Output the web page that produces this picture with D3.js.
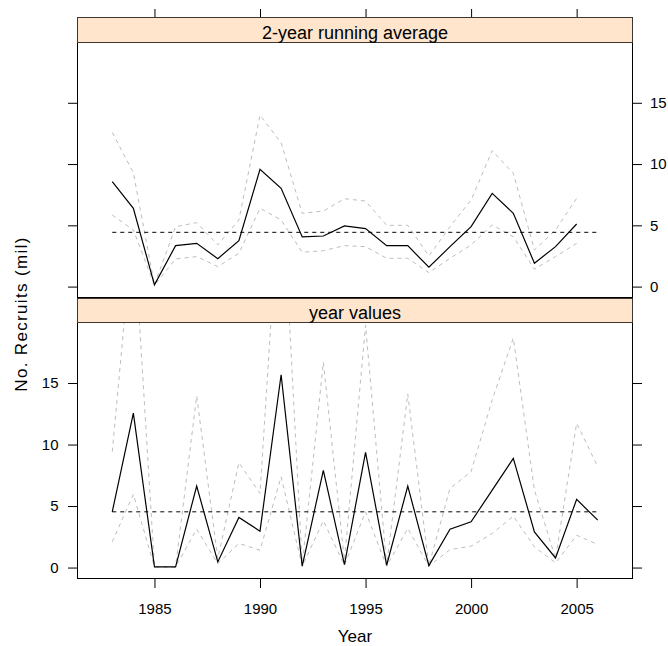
<!DOCTYPE html>
<html>
<head>
<meta charset="utf-8">
<script src="https://cdn.jsdelivr.net/npm/d3@7"></script>
<style>
    body { margin: 0; background: #fff; }
    svg { display: block; font-family: "Liberation Sans", Arial, sans-serif; }
</style>
</head>
<body>
<div id="chart"></div>
<script>
'use strict';

// years on the x axis
var years = [1983, 1984, 1985, 1986, 1987, 1988, 1989, 1990, 1991, 1992, 1993, 1994,
    1995, 1996, 1997, 1998, 1999, 2000, 2001, 2002, 2003, 2004, 2005, 2006];

// 2-year running average (1983..2005)
var avgMid = [8.56, 6.39, 0.14, 3.34, 3.53, 2.28, 3.75, 9.57, 8.02, 4.05, 4.13, 4.95,
    4.73, 3.34, 3.34, 1.58, 3.26, 4.89, 7.61, 5.98, 1.91, 3.26, 5.11];
var avgHi = [12.58, 9.29, 0.14, 4.89, 5.22, 3.40, 5.44, 13.99, 11.74, 5.98, 6.17, 7.17,
    6.98, 5.00, 5.00, 2.50, 4.89, 7.07, 11.09, 9.24, 2.99, 4.62, 7.20];
var avgLo = [5.84, 4.62, 0.10, 2.26, 2.45, 1.63, 2.72, 6.39, 5.44, 2.80, 2.93, 3.34,
    3.26, 2.31, 2.31, 1.14, 2.31, 3.40, 5.03, 4.07, 1.42, 2.45, 3.53];

// year values (1983..2006)
var yrMid = [4.53, 12.55, 0.05, 0.05, 6.63, 0.46, 4.07, 2.96, 15.67, 0.11, 7.90, 0.24,
    9.37, 0.19, 6.63, 0.16, 3.12, 3.72, 6.30, 8.88, 2.90, 0.78, 5.54, 3.85];
var yrHi = [9.42, 28.0, 0.05, 0.05, 13.96, 0.73, 8.53, 6.03, 33.0, 0.19, 16.68, 0.60,
    19.7, 0.19, 14.12, 0.16, 6.44, 7.79, 13.63, 18.66, 6.30, 0.73, 11.73, 8.20];
var yrLo = [2.09, 5.95, 0.05, 0.05, 3.12, 0.32, 1.96, 1.41, 7.38, 0.11, 3.80, 0.19,
    4.53, 0.11, 3.18, 0.11, 1.46, 1.74, 2.77, 4.18, 1.68, 0.38, 2.63, 1.87];

// horizontal mean line per panel
var meanValues = [4.43, 4.53];

var panelTitles = ['2-year running average', 'year values'];
var xTicks = [1985, 1990, 1995, 2000, 2005];
var yTicks = [0, 5, 10, 15];

var width = 668, height = 646;
var left = 77, right = 633;

var svg = d3.select('#chart').append('svg')
    .attr('width', width)
    .attr('height', height);

var x = d3.scaleLinear()
    .domain([1981.33, 2007.67])
    .range([left, right]);

// panels: strip top, plot top, plot bottom
var panels = [
    {strip: 17, top: 42, bottom: 298, mid: avgMid, hi: avgHi, lo: avgLo, mean: meanValues[0], title: panelTitles[0]},
    {strip: 298, top: 322, bottom: 579, mid: yrMid, hi: yrHi, lo: yrLo, mean: meanValues[1], title: panelTitles[1]}
];

panels.forEach(function (p, i) {
    var y = d3.scaleLinear()
        .domain([-0.93, 19.96])
        .range([p.bottom, p.top]);

    var clipId = 'clip' + i;
    svg.append('clipPath').attr('id', clipId)
        .append('rect')
        .attr('x', left).attr('y', p.top)
        .attr('width', right - left).attr('height', p.bottom - p.top);

    var g = svg.append('g').attr('clip-path', 'url(#' + clipId + ')');

    function series(vals) {
        return vals.map(function (v, k) { return [years[k], v]; });
    }
    var line = d3.line()
        .x(function (d) { return x(d[0]); })
        .y(function (d) { return y(d[1]); });

    // confidence bands
    [p.hi, p.lo].forEach(function (vals) {
        g.append('path')
            .datum(series(vals))
            .attr('d', line)
            .attr('fill', 'none')
            .attr('stroke', '#bdbdbd')
            .attr('stroke-width', 1)
            .attr('stroke-dasharray', '4,4');
    });

    // mean line
    g.append('path')
        .datum([[years[0], p.mean], [years[years.length - 1], p.mean]])
        .attr('d', line)
        .attr('fill', 'none')
        .attr('stroke', '#000')
        .attr('stroke-width', 1)
        .attr('stroke-dasharray', '4,4');

    // estimate line
    g.append('path')
        .datum(series(p.mid))
        .attr('d', line)
        .attr('fill', 'none')
        .attr('stroke', '#000')
        .attr('stroke-width', 1.2);

    // panel frame
    svg.append('rect')
        .attr('x', left + 0.5).attr('y', p.top + 0.5)
        .attr('width', right - left - 1).attr('height', p.bottom - p.top - 1)
        .attr('fill', 'none')
        .attr('stroke', '#000');

    // strip
    svg.append('rect')
        .attr('x', left + 0.5).attr('y', p.strip + 0.5)
        .attr('width', right - left - 1).attr('height', p.top - p.strip)
        .attr('fill', '#ffe5cc')
        .attr('stroke', '#3d3631');
    svg.append('text')
        .attr('x', (left + right) / 2)
        .attr('y', p.top - 3)
        .attr('text-anchor', 'middle')
        .style('font-size', '18px')
        .text(p.title);

    // y axes alternate: top panel labelled on the right, bottom on the left
    var leftAxis = d3.axisLeft(y).tickValues(yTicks).tickSize(9).tickPadding(9.5);
    var rightAxis = d3.axisRight(y).tickValues(yTicks).tickSize(9).tickPadding(8);
    if (i === 0) leftAxis.tickFormat('');
    else rightAxis.tickFormat('');

    svg.append('g')
        .attr('transform', 'translate(' + left + ',0)')
        .call(leftAxis)
        .call(function (a) { a.select('.domain').remove(); })
        .selectAll('text').style('font-size', '15px').attr('fill', '#000');
    svg.append('g')
        .attr('transform', 'translate(' + right + ',0)')
        .call(rightAxis)
        .call(function (a) { a.select('.domain').remove(); })
        .selectAll('text').style('font-size', '15px').attr('fill', '#000');
});

// x axis: ticks on top, labels at the bottom
svg.append('g')
    .attr('transform', 'translate(0,17)')
    .call(d3.axisTop(x).tickValues(xTicks).tickSize(8).tickFormat(''))
    .call(function (a) { a.select('.domain').remove(); });

svg.append('g')
    .attr('transform', 'translate(0,579)')
    .call(d3.axisBottom(x).tickValues(xTicks).tickSize(9).tickPadding(15).tickFormat(d3.format('d')))
    .call(function (a) { a.select('.domain').remove(); })
    .selectAll('text').style('font-size', '15px').attr('fill', '#000');

svg.selectAll('.tick line').attr('stroke', '#000');

// axis titles
svg.append('text')
    .attr('x', (left + right) / 2)
    .attr('y', 642)
    .attr('text-anchor', 'middle')
    .style('font-size', '17px')
    .text('Year');

svg.append('text')
    .attr('transform', 'translate(27,314.7) rotate(-90)')
    .attr('text-anchor', 'middle')
    .attr('textLength', 154)
    .attr('lengthAdjust', 'spacing')
    .style('font-size', '17px')
    .text('No. Recruits (mil)');
</script>
</body>
</html>
